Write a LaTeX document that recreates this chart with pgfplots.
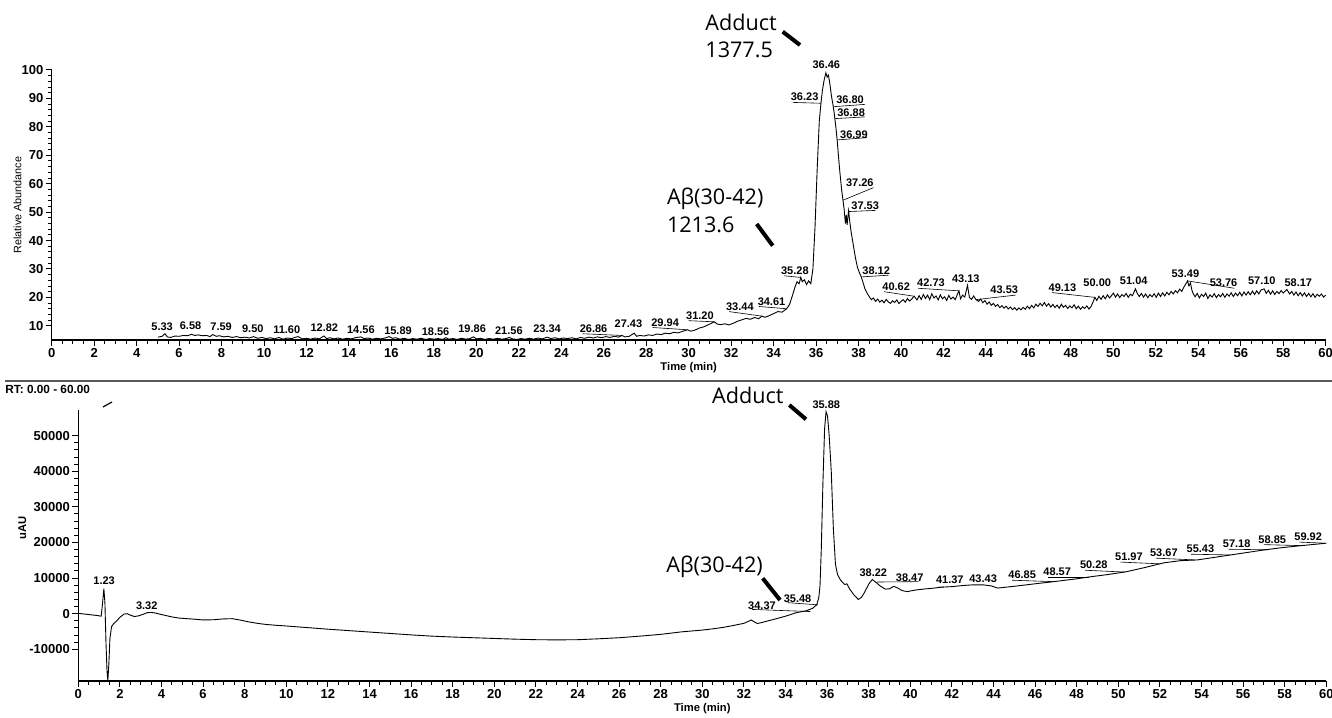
\documentclass[border=0pt]{standalone}
\usepackage{fontspec}
\setmainfont{Liberation Sans}
\newfontfamily\annfont{Open Sans}
\usepackage{pgfplots}
\pgfplotsset{compat=1.18}

\pgfplotstableread{
t v
5.0 6.0
5.2 6.3
5.33 7.2
5.45 6.1
5.6 5.9
5.8 6.4
6.0 6.3
6.2 6.6
6.4 6.5
6.58 7.0
6.75 6.6
6.9 6.8
7.1 6.5
7.3 6.6
7.45 6.2
7.59 6.9
7.75 6.3
7.9 6.5
8.1 6.1
8.3 6.3
8.5 5.9
8.7 6.2
8.9 5.8
9.1 6.0
9.3 5.7
9.5 6.2
9.7 5.6
9.9 5.9
10.1 5.5
10.3 5.8
10.5 5.4
10.7 5.9
10.9 5.3
11.1 5.7
11.3 5.5
11.45 5.9
11.6 6.2
11.8 5.4
12.0 5.6
12.2 5.3
12.4 5.7
12.6 5.4
12.82 6.4
12.95 5.5
13.1 5.8
13.3 5.4
13.5 5.7
13.7 5.3
13.9 5.6
14.1 5.4
14.3 5.8
14.56 6.1
14.7 5.5
14.9 5.7
15.1 5.3
15.3 5.6
15.5 5.4
15.7 5.7
15.89 6.2
16.05 5.6
16.2 5.8
16.4 5.3
16.6 5.6
16.8 5.2
17.0 5.5
17.2 5.3
17.4 5.6
17.6 5.2
17.8 5.5
18.0 5.3
18.2 5.5
18.4 5.2
18.56 5.8
18.7 5.3
18.9 5.5
19.1 5.2
19.3 5.6
19.5 5.3
19.7 5.5
19.86 6.1
20.0 5.4
20.2 5.6
20.4 5.2
20.6 5.5
20.8 5.3
21.0 5.6
21.2 5.3
21.4 5.5
21.56 5.9
21.7 5.4
21.9 5.2
22.1 5.5
22.3 5.3
22.5 5.6
22.7 5.3
22.9 5.7
23.1 5.4
23.34 6.0
23.5 5.5
23.7 5.8
23.9 5.4
24.1 5.7
24.3 5.5
24.5 5.8
24.7 5.4
24.9 5.9
25.1 5.6
25.3 6.0
25.5 5.7
25.7 6.1
25.9 5.8
26.1 6.2
26.3 5.9
26.5 6.3
26.7 6.0
26.86 6.6
27.0 6.1
27.2 6.3
27.43 7.4
27.55 6.3
27.7 6.6
27.9 6.4
28.1 6.8
28.3 6.6
28.5 7.1
28.7 6.9
28.9 7.4
29.1 7.2
29.3 7.7
29.5 7.5
29.7 8.0
29.94 8.6
30.1 8.1
30.3 8.5
30.5 9.2
30.7 9.6
30.9 10.3
31.05 10.8
31.2 11.4
31.35 10.6
31.5 10.4
31.7 10.7
31.9 10.3
32.1 10.9
32.3 11.6
32.5 12.1
32.7 12.6
32.9 12.3
33.1 12.9
33.3 12.5
33.44 13.4
33.6 13.0
33.8 13.6
34.0 14.3
34.2 15.0
34.4 14.8
34.61 16.0
34.75 17.5
34.9 21.0
35.0 23.5
35.1 25.5
35.2 24.8
35.28 27.0
35.35 25.5
35.45 26.2
35.55 24.5
35.65 25.8
35.75 24.8
35.85 30.0
35.95 45.0
36.05 65.0
36.15 82.0
36.23 88.4
36.3 93.0
36.38 96.5
36.46 99.0
36.52 97.5
36.58 98.2
36.65 95.0
36.72 91.0
36.8 87.5
36.85 85.0
36.88 83.0
36.93 80.0
36.99 75.5
37.05 70.0
37.12 64.0
37.2 58.0
37.26 54.5
37.32 51.0
37.38 46.0
37.42 49.0
37.46 45.5
37.5 48.5
37.53 50.5
37.58 47.0
37.65 43.0
37.75 38.5
37.85 34.0
37.95 30.5
38.05 28.5
38.12 27.3
38.2 25.5
38.3 23.0
38.4 21.5
38.5 20.3
38.6 19.2
38.7 19.8
38.8 18.6
38.9 19.4
39.0 18.3
39.1 19.0
39.2 18.1
39.3 19.3
39.4 18.4
39.5 17.9
39.6 18.8
39.7 18.2
39.8 19.1
39.9 17.8
40.0 18.6
40.1 19.2
40.2 18.3
40.3 19.6
40.4 18.7
40.5 19.4
40.62 20.4
40.75 19.1
40.85 20.6
40.95 19.3
41.05 21.0
41.15 19.6
41.25 20.8
41.35 19.2
41.45 21.3
41.55 19.8
41.65 20.5
41.75 19.1
41.85 20.9
41.95 19.5
42.05 20.2
42.15 18.9
42.25 20.7
42.35 19.4
42.45 20.1
42.55 19.2
42.65 21.0
42.73 22.3
42.8 19.5
42.9 20.8
43.0 20.1
43.13 24.2
43.22 20.0
43.32 19.3
43.42 20.5
43.53 19.2
43.65 18.6
43.75 19.4
43.85 18.1
43.95 18.9
44.05 17.6
44.15 18.4
44.25 17.2
44.35 17.9
44.45 16.8
44.55 17.5
44.65 16.4
44.75 17.1
44.85 16.2
44.95 16.9
45.05 15.9
45.15 16.6
45.25 15.7
45.35 16.4
45.45 15.5
45.55 16.3
45.65 15.6
45.75 16.5
45.85 15.8
45.95 16.9
46.05 16.0
46.15 17.2
46.25 16.3
46.35 17.6
46.45 16.8
46.55 17.9
46.65 17.0
46.75 18.2
46.85 16.9
46.95 17.8
47.05 16.6
47.15 17.5
47.25 16.4
47.35 17.3
47.45 16.2
47.55 17.6
47.65 16.5
47.75 17.2
47.85 16.1
47.95 17.0
48.05 16.3
48.15 17.4
48.25 16.0
48.35 16.9
48.45 15.8
48.55 16.7
48.65 16.1
48.75 17.0
48.85 15.9
48.95 16.8
49.05 18.5
49.13 20.0
49.22 18.9
49.32 20.4
49.42 19.3
49.52 20.6
49.62 19.5
49.72 20.9
49.82 19.8
49.92 20.7
50.0 21.5
50.1 20.1
50.2 21.2
50.3 19.9
50.4 21.0
50.5 20.3
50.6 21.4
50.7 20.0
50.8 21.1
50.9 20.6
51.04 23.0
51.12 21.5
51.22 20.3
51.32 21.4
51.42 20.1
51.52 21.2
51.62 19.9
51.72 21.0
51.82 20.2
51.92 21.3
52.02 20.0
52.12 21.5
52.22 20.3
52.32 21.6
52.42 20.5
52.52 21.8
52.62 20.9
52.72 22.1
52.82 21.2
52.92 22.4
53.02 21.6
53.12 22.9
53.22 22.1
53.32 23.6
53.42 24.8
53.49 25.8
53.56 24.0
53.63 25.1
53.7 22.5
53.76 21.3
53.85 20.2
53.95 21.4
54.05 19.8
54.15 21.1
54.25 20.3
54.35 21.5
54.45 19.6
54.55 20.9
54.65 20.1
54.75 21.3
54.85 19.9
54.95 21.0
55.05 20.2
55.15 21.4
55.25 20.0
55.35 21.2
55.45 20.4
55.55 21.6
55.65 20.3
55.75 21.5
55.85 20.6
55.95 21.8
56.05 20.5
56.15 21.9
56.25 20.8
56.35 22.0
56.45 20.9
56.55 22.2
56.65 21.0
56.75 22.3
56.85 21.2
56.95 22.6
57.1 23.0
57.2 21.4
57.3 22.5
57.4 21.1
57.5 22.3
57.6 21.0
57.7 22.1
57.8 21.3
57.9 22.4
58.0 21.5
58.17 22.8
58.3 21.2
58.4 22.1
58.5 20.8
58.6 21.9
58.7 20.6
58.8 21.7
58.9 20.5
59.0 21.6
59.1 20.3
59.2 21.4
59.3 20.2
59.4 21.3
59.5 20.0
59.6 21.1
59.7 20.4
59.8 21.2
59.9 20.1
60.0 20.8
}\mstrace

\pgfplotstableread{
t v
0.0 100
0.3 -100
0.6 -300
0.9 -500
1.1 -700
1.15 2000
1.23 7000
1.28 3000
1.33 -8000
1.38 -16000
1.42 -18800
1.47 -14000
1.52 -7000
1.6 -3600
1.7 -2800
1.85 -2000
2.0 -1000
2.2 -100
2.35 0
2.5 -400
2.7 -800
2.9 -600
3.1 -200
3.32 300
3.5 350
3.7 200
3.9 -100
4.2 -500
4.5 -900
4.8 -1200
5.0 -1300
5.5 -1500
6.0 -1750
6.5 -1700
7.0 -1450
7.4 -1400
7.8 -1800
8.2 -2300
8.6 -2700
9.0 -3000
9.5 -3250
10.0 -3450
11.0 -3900
12.0 -4350
13.0 -4750
14.0 -5150
15.0 -5550
16.0 -5950
17.0 -6300
18.0 -6550
19.0 -6750
20.0 -6950
21.0 -7150
22.0 -7300
23.0 -7350
24.0 -7300
25.0 -7050
26.0 -6750
27.0 -6300
28.0 -5800
29.0 -5100
30.0 -4600
30.5 -4250
31.0 -3850
31.5 -3300
32.0 -2700
32.2 -2200
32.35 -1750
32.5 -2300
32.65 -2750
32.85 -2500
33.0 -2250
33.5 -1500
34.0 -700
34.5 250
35.0 850
35.3 1500
35.5 2500
35.6 4500
35.66 8000
35.72 18000
35.8 37000
35.88 52000
35.95 56700
36.02 55500
36.1 50000
36.2 40000
36.3 24000
36.4 14000
36.5 11000
36.65 9400
36.85 8200
36.95 8400
37.1 6800
37.3 5200
37.5 4000
37.65 4600
37.8 6000
38.0 8300
38.17 9600
38.35 8800
38.55 7800
38.8 6900
39.0 7000
39.2 7700
39.4 7200
39.6 6500
39.85 6200
40.2 6600
40.6 6900
41.0 7100
41.5 7450
42.0 7600
42.5 7900
43.0 8100
43.5 8100
43.9 7800
44.2 7200
45.0 7700
46.0 8400
46.9 9000
48.0 9800
48.7 10400
49.5 11000
50.4 11800
51.3 13000
52.2 14300
53.0 14900
53.8 15100
54.6 15800
55.4 16500
56.2 17200
57.0 17900
57.8 18500
58.6 19000
59.3 19400
60.0 19800
}\uvtrace

\tikzset{
  lab/.style={font=\fontsize{5.5}{6}\selectfont\bfseries, inner sep=0.5pt},
  lead/.style={black, line width=0.3pt},
}

\begin{document}
\begin{tikzpicture}
\path[use as bounding box] (0,0) rectangle (666pt,-358.5pt);
\pgfplotsset{
  chrom/.style={
    scale only axis,
    axis x line*=bottom, axis y line*=left,
    axis line style={-, line width=0.6pt},
    xmin=0, xmax=60, xtick={0,2,...,60},
    minor x tick num=3, minor y tick num=4,
    tick align=outside,
    major tick length=3pt, minor tick length=2pt,
    every tick/.style={black, line width=0.5pt},
    tick label style={font=\fontsize{6.5}{7}\selectfont\bfseries, inner sep=1pt},
    /pgf/number format/assume math mode=true,
    /pgf/number format/set thousands separator={},
    xlabel={Time (min)},
    label style={font=\fontsize{5.6}{7}\selectfont\bfseries},
    xlabel style={inner sep=1pt},
    clip=false,
  },
}
% Top panel: MS chromatogram
\begin{axis}[chrom,
  width=637pt, height=135pt,
  at={(25.85pt,-170pt)}, anchor=south west,
  ymin=5, ymax=100, ytick={10,20,...,100},
  ylabel={Relative Abundance},
  ylabel style={font=\fontsize{5.4}{7}\selectfont, yshift=-4.5pt},
]
\addplot[black, line width=0.45pt] table[x=t, y=v] {\mstrace};
\node[lab] at (axis cs:5.2,9.7) {5.33};
\node[lab] at (axis cs:6.54,10.0) {6.58};
\node[lab] at (axis cs:7.98,9.5) {7.59};
\node[lab] at (axis cs:9.47,9.0) {9.50};
\node[lab] at (axis cs:11.07,8.6) {11.60};
\node[lab] at (axis cs:12.84,9.2) {12.82};
\node[lab] at (axis cs:14.56,8.6) {14.56};
\node[lab] at (axis cs:16.31,8.35) {15.89};
\node[lab] at (axis cs:18.08,8.0) {18.56};
\node[lab] at (axis cs:19.80,8.8) {19.86};
\node[lab] at (axis cs:21.53,8.35) {21.56};
\node[lab] at (axis cs:23.33,8.8) {23.34};
\node[lab] at (axis cs:25.52,9.0) {26.86};
\node[lab] at (axis cs:27.16,10.7) {27.43};
\node[lab] at (axis cs:28.89,11.2) {29.94};
\node[lab] at (axis cs:30.53,13.6) {31.20};
\node[lab] at (axis cs:32.41,16.8) {33.44};
\node[lab] at (axis cs:33.9,18.6) {34.61};
\node[lab] at (axis cs:35.0,29.4) {35.28};
\node[lab] at (axis cs:35.46,90.6) {36.23};
\node[lab] at (axis cs:36.48,101.8) {36.46};
\node[lab] at (axis cs:37.6,89.5) {36.80};
\node[lab] at (axis cs:37.65,84.8) {36.88};
\node[lab] at (axis cs:37.78,77.1) {36.99};
\node[lab] at (axis cs:38.06,60.4) {37.26};
\node[lab] at (axis cs:38.31,52.2) {37.53};
\node[lab] at (axis cs:38.83,29.4) {38.12};
\node[lab] at (axis cs:39.77,23.8) {40.62};
\node[lab] at (axis cs:41.41,25.0) {42.73};
\node[lab] at (axis cs:43.05,26.4) {43.13};
\node[lab] at (axis cs:44.86,22.6) {43.53};
\node[lab] at (axis cs:47.6,23.5) {49.13};
\node[lab] at (axis cs:49.24,25.3) {50.00};
\node[lab] at (axis cs:50.96,25.9) {51.04};
\node[lab] at (axis cs:53.39,28.3) {53.49};
\node[lab] at (axis cs:55.19,25.0) {53.76};
\node[lab] at (axis cs:56.99,25.9) {57.10};
\node[lab] at (axis cs:58.71,25.2) {58.17};
% leader lines
\draw[lead] (axis cs:34.9,88.6) -- (axis cs:36.22,88.3);
\draw[lead] (axis cs:36.84,87.1) -- (axis cs:38.3,87.9);
\draw[lead] (axis cs:36.89,82.9) -- (axis cs:38.3,83.5);
\draw[lead] (axis cs:36.99,75.4) -- (axis cs:38.4,76.2);
\draw[lead] (axis cs:37.27,54.2) -- (axis cs:38.7,58.6);
\draw[lead] (axis cs:37.54,50.2) -- (axis cs:38.8,50.6);
\draw[lead] (axis cs:38.13,27.2) -- (axis cs:39.4,27.8);
\draw[lead] (axis cs:34.5,27.6) -- (axis cs:35.28,27.0);
\draw[lead] (axis cs:39.2,22.0) -- (axis cs:40.62,20.4);
\draw[lead] (axis cs:40.8,23.2) -- (axis cs:42.73,22.3);
\draw[lead] (axis cs:43.53,19.2) -- (axis cs:45.4,20.8);
\draw[lead] (axis cs:47.1,21.7) -- (axis cs:49.13,20.0);
\draw[lead] (axis cs:53.49,25.8) -- (axis cs:55.7,23.2);
\draw[lead] (axis cs:31.2,11.4) -- (axis cs:30.0,11.8);
\draw[lead] (axis cs:33.44,13.4) -- (axis cs:31.9,15.0);
\draw[lead] (axis cs:34.61,16.0) -- (axis cs:33.3,16.8);
\draw[lead] (axis cs:29.94,8.6) -- (axis cs:28.3,9.4);
\draw[lead] (axis cs:26.86,6.6) -- (axis cs:25.0,7.2);
\end{axis}

% Bottom panel: UV chromatogram
\begin{axis}[chrom,
  width=624pt, height=135.5pt,
  at={(39.15pt,-340.5pt)}, anchor=south west,
  ymin=-18900, ymax=57200, ytick={-10000,0,...,50000},
  scaled y ticks=false,
  ylabel={uAU},
  ylabel style={font=\fontsize{5.6}{7}\selectfont\bfseries, at={(ticklabel cs:0.565)}, yshift=-3pt},
]
\addplot[black, line width=0.45pt] table[x=t, y=v] {\uvtrace};
\node[lab] at (axis cs:1.24,9270) {1.23};
\node[lab] at (axis cs:3.29,2360) {3.32};
\node[lab] at (axis cs:32.87,2360) {34.37};
\node[lab] at (axis cs:34.58,4200) {35.48};
\node[lab] at (axis cs:35.96,58600) {35.88};
\node[lab] at (axis cs:38.22,11520) {38.22};
\node[lab] at (axis cs:39.97,10220) {38.47};
\node[lab] at (axis cs:41.9,9470) {41.37};
\node[lab] at (axis cs:43.5,9830) {43.43};
\node[lab] at (axis cs:45.38,10870) {46.85};
\node[lab] at (axis cs:47.06,11800) {48.57};
\node[lab] at (axis cs:48.82,13680) {50.28};
\node[lab] at (axis cs:50.51,16000) {51.97};
\node[lab] at (axis cs:52.19,17130) {53.67};
\node[lab] at (axis cs:53.95,18180) {55.43};
\node[lab] at (axis cs:55.69,19580) {57.18};
\node[lab] at (axis cs:57.40,20900) {58.85};
\node[lab] at (axis cs:59.13,21630) {59.92};
% leader lines
\draw[lead] (axis cs:32.4,1200) -- (axis cs:35.2,600);
\draw[lead] (axis cs:34.1,3100) -- (axis cs:35.55,2500);
\draw[lead] (axis cs:38.4,8900) -- (axis cs:40.4,9000);
\draw[lead] (axis cs:41.3,7400) -- (axis cs:41.6,7500);
\draw[lead] (axis cs:44.9,9400) -- (axis cs:46.9,9000);
\draw[lead] (axis cs:46.6,10300) -- (axis cs:48.6,10300);
\draw[lead] (axis cs:48.4,12200) -- (axis cs:50.3,11700);
\draw[lead] (axis cs:50.1,14500) -- (axis cs:52.0,14000);
\draw[lead] (axis cs:51.8,15600) -- (axis cs:53.7,15100);
\draw[lead] (axis cs:53.5,16700) -- (axis cs:55.4,16500);
\draw[lead] (axis cs:55.3,18100) -- (axis cs:57.2,17950);
\draw[lead] (axis cs:57.0,19400) -- (axis cs:58.9,19100);
\draw[lead] (axis cs:58.7,20100) -- (axis cs:59.95,19800);
\end{axis}

% separator and run-time label
\draw[black!65, line width=0.8pt] (2.5pt,-190.5pt) -- (666pt,-190.5pt);
\node[anchor=west, inner sep=0pt, font=\fontsize{5.9}{7}\selectfont\bfseries] at (2.5pt,-194.5pt) {RT: 0.00 - 60.00};
\draw[black, line width=0.6pt] (51.5pt,-203.5pt) -- (56pt,-201pt);

% annotations
\begin{scope}[every node/.style={anchor=west, inner sep=0pt, font=\annfont\fontsize{10.8}{12}\selectfont}]
\node at (352.5pt,-11.35pt) {Adduct};
\node at (352.5pt,-25pt) {1377.5};
\node at (333.3pt,-99.2pt) {Aβ(30-42)};
\node at (333.3pt,-112.5pt) {1213.6};
\node at (355.85pt,-197.5pt) {Adduct};
\node at (333pt,-283.35pt) {Aβ(30-42)};
\end{scope}
\draw[black, line width=2pt] (391.35pt,-15.85pt) -- (400pt,-22.5pt);
\draw[black, line width=2pt] (378.35pt,-112pt) -- (386.35pt,-122.85pt);
\draw[black, line width=2pt] (394.65pt,-202.5pt) -- (403pt,-209.65pt);
\draw[black, line width=2pt] (381.35pt,-289.15pt) -- (390pt,-300pt);
\end{tikzpicture}
\end{document}
